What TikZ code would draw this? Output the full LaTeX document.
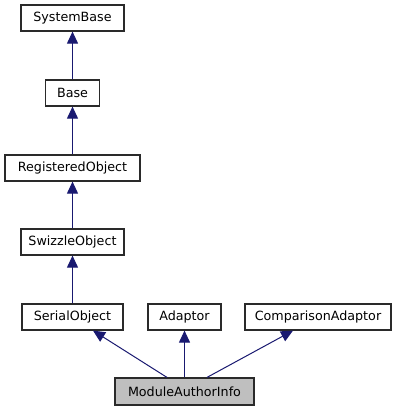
\documentclass[tikz,border=0pt]{standalone}
\usepackage{fontspec}
\setmainfont{DejaVu Sans}
\usetikzlibrary{arrows.meta}
\definecolor{edge}{HTML}{191970}
\definecolor{boxline}{HTML}{2A2A2A}
\definecolor{hl}{HTML}{BFBFBF}
\begin{document}
\begin{tikzpicture}[x=1pt,y=-1pt,
  cls/.style={draw=boxline,line width=1.2pt,fill=white,minimum height=26pt,inner sep=0pt,font=\fontsize{12.7}{14}\selectfont},
  arr/.style={draw=edge,line width=1pt,-{Triangle[width=11pt,length=12pt]}}]
\useasboundingbox (0,0) rectangle (401,411);
\node[cls,minimum width=103pt] (sb) at (72.5,18) {SystemBase};
\node[cls,minimum width=54pt] (b) at (72.5,93) {Base};
\node[cls,minimum width=135pt] (ro) at (72.5,168) {RegisteredObject};
\node[cls,minimum width=103pt] (sw) at (72.5,242) {SwizzleObject};
\node[cls,minimum width=101pt] (so) at (72.5,317) {SerialObject};
\node[cls,minimum width=73pt] (ad) at (184.5,317) {Adaptor};
\node[cls,minimum width=146pt] (ca) at (318,317) {ComparisonAdaptor};
\node[cls,fill=hl,minimum width=139pt,minimum height=27pt] (mai) at (184.5,391.5) {ModuleAuthorInfo};
\draw[arr] (b.north) -- (sb.south);
\draw[arr] (ro.north) -- (b.south);
\draw[arr] (sw.north) -- (ro.south);
\draw[arr] (so.north) -- (sw.south);
\draw[arr] ([xshift=-17.5pt]mai.north) -- ([xshift=20.5pt]so.south);
\draw[arr] (mai.north) -- (ad.south);
\draw[arr] ([xshift=22.5pt]mai.north) -- ([xshift=-25pt]ca.south);
\end{tikzpicture}
\end{document}
